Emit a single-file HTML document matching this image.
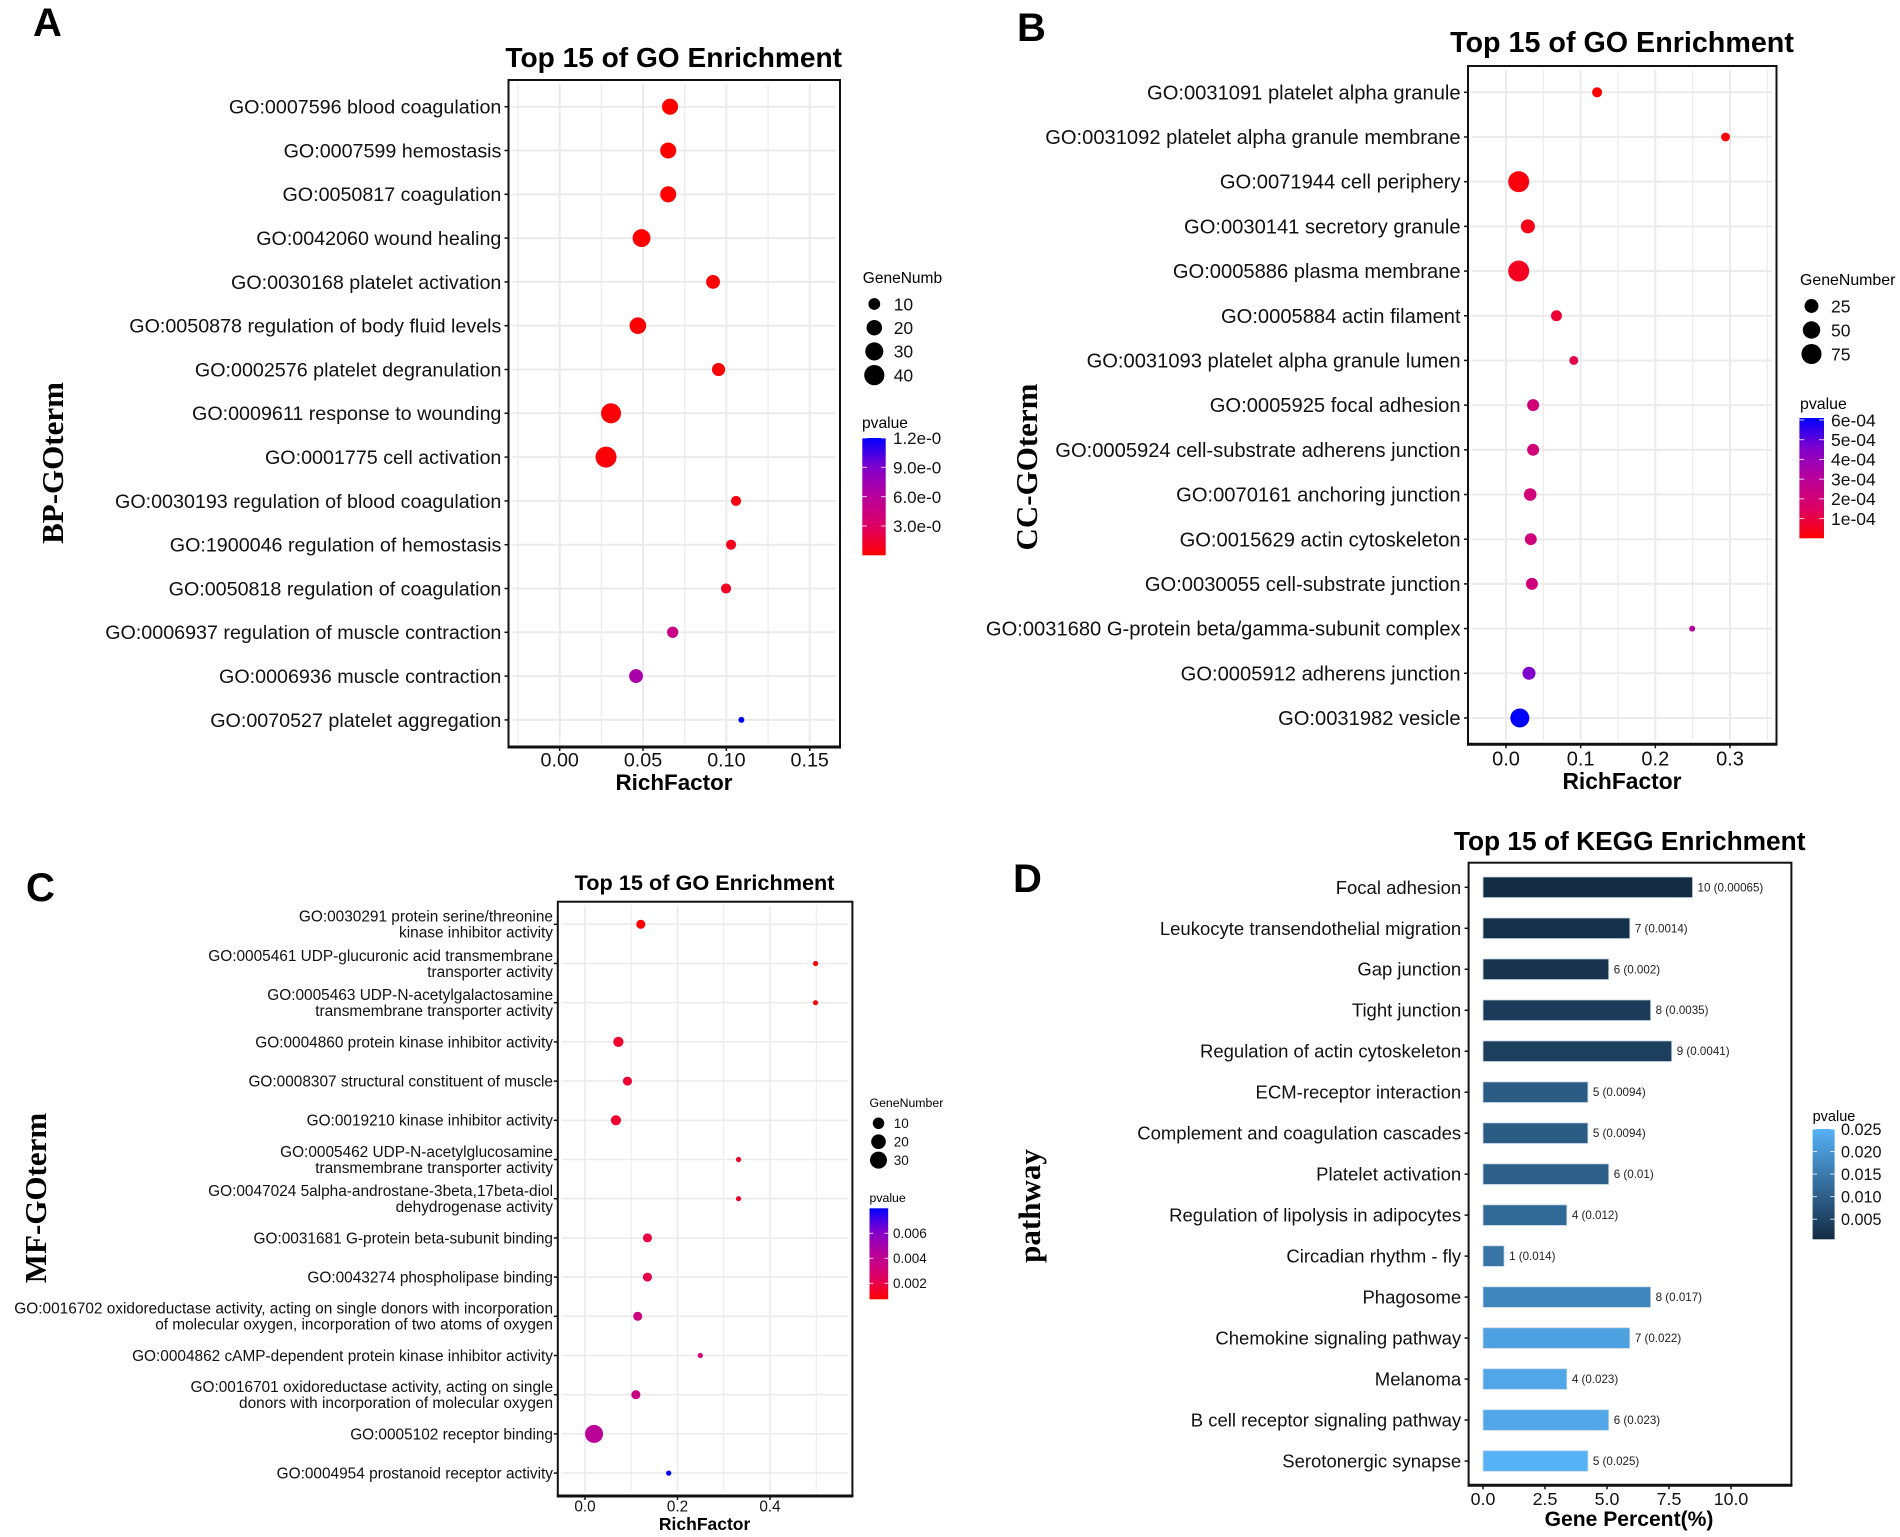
<!DOCTYPE html>
<html lang="en">
<head>
<meta charset="utf-8">
<title>GO and KEGG Enrichment</title>
<style>
html,body{margin:0;padding:0;background:#fff;}
svg{display:block;font-family:"Liberation Sans",sans-serif;}
.letter{font-weight:700;font-size:40px;fill:#000;}
.ytitle{font-family:"Liberation Serif",serif;font-weight:700;font-size:31px;fill:#000;text-anchor:middle;}
.title{font-weight:700;fill:#000;text-anchor:middle;}
.xtitle{font-weight:700;fill:#000;text-anchor:middle;}
</style>
</head>
<body>
<svg id="figure" xmlns="http://www.w3.org/2000/svg" width="1900" height="1537" viewBox="0 0 1900 1537">
<defs>
<linearGradient id="rb" x1="0" y1="1" x2="0" y2="0">
<stop offset="0" stop-color="#ff0000"/><stop offset="0.25" stop-color="#dd0065"/><stop offset="0.5" stop-color="#b8009b"/><stop offset="0.75" stop-color="#8000cc"/><stop offset="1" stop-color="#0000ff"/>
</linearGradient>
<linearGradient id="bb" x1="0" y1="1" x2="0" y2="0">
<stop offset="0" stop-color="#132b43"/><stop offset="1" stop-color="#56b1f7"/>
</linearGradient>
</defs>
<g id="panel-a">
<text class="letter" x="33" y="36">A</text>
<text class="title" x="673.7" y="67" font-size="28.1">Top 15 of GO Enrichment</text>
<text class="xtitle" x="674" y="790" font-size="22.4">RichFactor</text>
<text class="ytitle" transform="translate(63,463) rotate(-90)">BP-GOterm</text>
<text x="862.8" y="283" font-size="15.5">GeneNumb</text>
<text x="862" y="428" font-size="15.6">pvalue</text>
</g>
<g id="panel-b">
<text class="letter" x="1017" y="41">B</text>
<text class="title" x="1622" y="52" font-size="28.7">Top 15 of GO Enrichment</text>
<text class="xtitle" x="1622" y="789" font-size="22.8">RichFactor</text>
<text class="ytitle" transform="translate(1037,467) rotate(-90)">CC-GOterm</text>
<text x="1800" y="285" font-size="15.9">GeneNumber</text>
<text x="1800" y="409" font-size="15.9">pvalue</text>
</g>
<g id="panel-c">
<text class="letter" x="26" y="901">C</text>
<text class="title" x="704.6" y="890" font-size="21.7">Top 15 of GO Enrichment</text>
<text class="xtitle" x="704.6" y="1530" font-size="17.5">RichFactor</text>
<text class="ytitle" transform="translate(46,1198) rotate(-90)">MF-GOterm</text>
<text x="869.5" y="1107" font-size="12.3">GeneNumber</text>
<text x="869.5" y="1202" font-size="12.3">pvalue</text>
</g>
<g id="panel-d">
<text class="letter" x="1013" y="892">D</text>
<text class="title" x="1629.7" y="850" font-size="26.3">Top 15 of KEGG Enrichment</text>
<text class="xtitle" x="1629" y="1526" font-size="21.1">Gene Percent(%)</text>
<text class="ytitle" transform="translate(1040,1206) rotate(-90)">pathway</text>
<text x="1812.6" y="1121" font-size="14.5">pvalue</text>
</g>
</svg>
<script>
// Panel A data
const aTerms = ["GO:0007596 blood coagulation","GO:0007599 hemostasis","GO:0050817 coagulation","GO:0042060 wound healing","GO:0030168 platelet activation","GO:0050878 regulation of body fluid levels","GO:0002576 platelet degranulation","GO:0009611 response to wounding","GO:0001775 cell activation","GO:0030193 regulation of blood coagulation","GO:1900046 regulation of hemostasis","GO:0050818 regulation of coagulation","GO:0006937 regulation of muscle contraction","GO:0006936 muscle contraction","GO:0070527 platelet aggregation"];
const aRichFactor = [0.0662,0.0651,0.0651,0.0491,0.092,0.0469,0.0953,0.0308,0.0278,0.1058,0.1028,0.0998,0.0678,0.0458,0.109];
const aGeneNumber = [22,22,22,29,15,24,13,39,44,7,7,7,9,15,4];
const aPvalue = [1e-8,1e-8,1e-8,1e-8,1e-7,1e-7,1e-7,2e-7,2e-7,5e-7,9e-7,1e-6,4.8e-6,6.8e-6,1.2e-5];
const aXTicks = [0,0.05,0.1,0.15];
const aXTickLabels = ["0.00","0.05","0.10","0.15"];
const aSizeBreaks = [10,20,30,40];
const aColorBreaks = [3e-6,6e-6,9e-6,1.2e-5];
const aColorLabels = ["3.0e-0","6.0e-0","9.0e-0","1.2e-0"];

// Panel B data
const bTerms = ["GO:0031091 platelet alpha granule","GO:0031092 platelet alpha granule membrane","GO:0071944 cell periphery","GO:0030141 secretory granule","GO:0005886 plasma membrane","GO:0005884 actin filament","GO:0031093 platelet alpha granule lumen","GO:0005925 focal adhesion","GO:0005924 cell-substrate adherens junction","GO:0070161 anchoring junction","GO:0015629 actin cytoskeleton","GO:0030055 cell-substrate junction","GO:0031680 G-protein beta/gamma-subunit complex","GO:0005912 adherens junction","GO:0031982 vesicle"];
const bRichFactor = [0.122,0.294,0.017,0.0293,0.017,0.0676,0.0908,0.0363,0.0363,0.0324,0.0332,0.0347,0.2493,0.0308,0.0185];
const bGeneNumber = [8,5,85,26,85,11,5,15,15,18,15,15,2,20,64];
const bPvalue = [5e-6,1e-5,2e-5,4e-5,5e-5,8e-5,1.2e-4,2e-4,2e-4,2e-4,2.1e-4,2.1e-4,3.2e-4,4.6e-4,6.1e-4];
const bXTicks = [0,0.1,0.2,0.3];
const bXTickLabels = ["0.0","0.1","0.2","0.3"];
const bSizeBreaks = [25,50,75];
const bColorBreaks = [1e-4,2e-4,3e-4,4e-4,5e-4,6e-4];
const bColorLabels = ["1e-04","2e-04","3e-04","4e-04","5e-04","6e-04"];

// Panel C data
const cTerms = ["GO:0030291 protein serine/threonine\nkinase inhibitor activity","GO:0005461 UDP-glucuronic acid transmembrane\ntransporter activity","GO:0005463 UDP-N-acetylgalactosamine\ntransmembrane transporter activity","GO:0004860 protein kinase inhibitor activity","GO:0008307 structural constituent of muscle","GO:0019210 kinase inhibitor activity","GO:0005462 UDP-N-acetylglucosamine\ntransmembrane transporter activity","GO:0047024 5alpha-androstane-3beta,17beta-diol\ndehydrogenase activity","GO:0031681 G-protein beta-subunit binding","GO:0043274 phospholipase binding","GO:0016702 oxidoreductase activity, acting on single donors with incorporation\nof molecular oxygen, incorporation of two atoms of oxygen","GO:0004862 cAMP-dependent protein kinase inhibitor activity","GO:0016701 oxidoreductase activity, acting on single\ndonors with incorporation of molecular oxygen","GO:0005102 receptor binding","GO:0004954 prostanoid receptor activity"];
const cRichFactor = [0.1207,0.4985,0.4985,0.0722,0.0918,0.0669,0.332,0.332,0.135,0.135,0.114,0.2493,0.11,0.0196,0.181];
const cGeneNumber = [5,2,2,7,5,7,2,2,5,5,5,2,5,35,2];
const cPvalue = [0.0008,0.0008,0.0009,0.0015,0.0016,0.0016,0.0015,0.0015,0.0019,0.002,0.0034,0.003,0.0036,0.0043,0.008];
const cXTicks = [0,0.2,0.4];
const cXTickLabels = ["0.0","0.2","0.4"];
const cSizeBreaks = [10,20,30];
const cColorBreaks = [0.002,0.004,0.006];
const cColorLabels = ["0.002","0.004","0.006"];

// Panel D data
const dTerms = ["Focal adhesion","Leukocyte transendothelial migration","Gap junction","Tight junction","Regulation of actin cytoskeleton","ECM-receptor interaction","Complement and coagulation cascades","Platelet activation","Regulation of lipolysis in adipocytes","Circadian rhythm - fly","Phagosome","Chemokine signaling pathway","Melanoma","B cell receptor signaling pathway","Serotonergic synapse"];
const dPercent = [8.45,5.92,5.07,6.76,7.61,4.23,4.23,5.07,3.38,0.85,6.76,5.92,3.38,5.07,4.23];
const dCount = [10,7,6,8,9,5,5,6,4,1,8,7,4,6,5];
const dPvalue = [0.00065,0.0014,0.002,0.0035,0.0041,0.0094,0.0094,0.01,0.012,0.014,0.017,0.022,0.023,0.023,0.025];
const dXTicks = [0,2.5,5,7.5,10];
const dXTickLabels = ["0.0","2.5","5.0","7.5","10.0"];
const dColorBreaks = [0.005,0.01,0.015,0.02,0.025];
const dColorLabels = ["0.005","0.010","0.015","0.020","0.025"];

const NS = "http://www.w3.org/2000/svg";
const INK = "#111";
const GRID = "#ebebeb";

function mk(tag, attrs, parent) {
  const el = document.createElementNS(NS, tag);
  for (const k in attrs) el.setAttribute(k, attrs[k]);
  parent.appendChild(el);
  return el;
}
function mix(a, b, t) {
  return a.map((v, i) => Math.round(v + (b[i] - v) * t));
}
const redBlueStops = [[255,0,0],[221,0,101],[184,0,155],[128,0,204],[0,0,255]];
function redBlue(t) {
  t = Math.max(0, Math.min(1, t));
  const p = t * (redBlueStops.length - 1);
  const i = Math.min(redBlueStops.length - 2, Math.floor(p));
  const c = mix(redBlueStops[i], redBlueStops[i + 1], p - i);
  return "rgb(" + c.join(",") + ")";
}
function blues(t) {
  t = Math.max(0, Math.min(1, t));
  const c = mix([19,43,67], [86,177,247], t);
  return "rgb(" + c.join(",") + ")";
}

function drawFrame(g, L, terms, xTicks, xLabels, withGrid) {
  const xScale = v => L.x0 + v * L.k;
  const yScale = i => L.rowFirst + i * L.rowStep;
  if (withGrid) {
    const step = xTicks[1] - xTicks[0];
    const minors = [];
    for (let v = xTicks[0] - step / 2; xScale(v) < L.right; v += step) minors.push(v);
    minors.forEach(v => {
      const px = xScale(v);
      if (px <= L.left) return;
      const line = mk("line", {x1:px, x2:px, y1:L.top + 4, y2:L.bottom - 4, stroke:GRID, "stroke-width":L.minorW}, g);
      
      
    });
    xTicks.forEach(v => {
      const px = xScale(v);
      const line = mk("line", {x1:px, x2:px, y1:L.top + 4, y2:L.bottom - 4, stroke:GRID, "stroke-width":L.majorW}, g);
      
      
    });
    terms.forEach((t, i) => {
      const py = yScale(i);
      const line = mk("line", {x1:L.left + 4, x2:L.right - 4, y1:py, y2:py, stroke:GRID, "stroke-width":L.majorW}, g);
      
      
    });
  }
  terms.forEach((t, i) => {
    const py = yScale(i);
    const tick = mk("line", {x1:L.left - 4, x2:L.left, y1:py, y2:py, stroke:INK, "stroke-width":1.5}, g);
    
    
    const label = mk("text", {x:L.labelX, "text-anchor":"end", "font-size":L.labelSize, fill:"#111"}, g);
    
    
    const lines = t.split("\n");
    lines.forEach((s, j) => {
      const ts = mk("tspan", {x:L.labelX, y:py + (j - (lines.length - 1) / 2) * L.lineGap + L.labelSize * 0.35}, label);
      ts.textContent = s;
    });
  });
  xTicks.forEach((v, i) => {
    const px = xScale(v);
    const tick = mk("line", {x1:px, x2:px, y1:L.bottom, y2:L.bottom + 4, stroke:INK, "stroke-width":1.5}, g);
    
    
    const label = mk("text", {x:px, y:L.tickBase, "text-anchor":"middle", "font-size":L.tickSize, fill:"#111"}, g);
    
    
    label.textContent = xLabels[i];
  });
}
function drawBorder(g, L) {
  const box = mk("rect", {x:L.left, y:L.top, width:L.right - L.left, height:L.bottom - L.top, fill:"none", stroke:INK, "stroke-width":2}, g);
  
  
  const base = mk("line", {x1:L.left - 1, x2:L.right + 1, y1:L.bottom, y2:L.bottom, stroke:INK, "stroke-width":3}, g);
  
  
}
function drawColorLegend(g, C, breaks, labels, gradId) {
  const yScale = v => C.bottom - (v - C.min) / (C.max - C.min) * (C.bottom - C.top);
  const bar = mk("rect", {x:C.x, y:C.top, width:C.w, height:C.bottom - C.top, fill:"url(#" + gradId + ")"}, g);
  
  
  breaks.forEach((v, i) => {
    const py = yScale(v);
    [[C.x, C.x + C.w / 5], [C.x + C.w * 4 / 5, C.x + C.w]].forEach(p => {
      const tick = mk("line", {x1:p[0], x2:p[1], y1:py, y2:py, stroke:"#fff", "stroke-width":1, opacity:0.8}, g);
      
      
    });
    const label = mk("text", {x:C.labelX, y:py + C.size * 0.36, "font-size":C.size, fill:"#111"}, g);
    
    
    label.textContent = labels[i];
  });
}
function drawDotPanel(id, L, S, C, terms, rich, genes, pvals, xTicks, xLabels, sizeBreaks, colorBreaks, colorLabels) {
  const g = document.getElementById(id);
  const radius = n => S.rMin + (S.rMax - S.rMin) * Math.sqrt(Math.max(0, n - S.nMin) / (S.nMax - S.nMin));
  drawFrame(g, L, terms, xTicks, xLabels, true);
  rich.forEach((v, i) => {
    const dot = mk("circle", {cx:L.x0 + v * L.k, cy:L.rowFirst + i * L.rowStep, r:radius(genes[i]), fill:redBlue((pvals[i] - C.min) / (C.max - C.min))}, g);
    
    
  });
  drawBorder(g, L);
  sizeBreaks.forEach((n, i) => {
    const py = S.first + i * S.step;
    const dot = mk("circle", {cx:S.x, cy:py, r:radius(n), fill:"#000"}, g);
    
    
    const label = mk("text", {x:S.labelX, y:py + S.size * 0.36, "font-size":S.size, fill:"#111"}, g);
    
    
    label.textContent = n;
  });
  drawColorLegend(g, C, colorBreaks, colorLabels, "rb");
}

drawDotPanel("panel-a",
  {left:508.5,right:840,top:80,bottom:747,x0:559.7,k:1666.7,rowFirst:106.7,rowStep:43.8,labelX:501.4,labelSize:19.7,lineGap:16,tickBase:766.7,tickSize:19.7,majorW:2,minorW:1.2},
  {nMin:4,nMax:44,rMin:3,rMax:10.5,x:874.3,first:304,step:23.7,labelX:893.7,size:17.5},
  {x:862.3,w:23.4,top:438,bottom:555.3,min:0,max:1.2e-5,labelX:893,size:17},
  aTerms,aRichFactor,aGeneNumber,aPvalue,aXTicks,aXTickLabels,aSizeBreaks,aColorBreaks,aColorLabels);

drawDotPanel("panel-b",
  {left:1468,right:1776.5,top:66,bottom:744.3,x0:1506,k:746.7,rowFirst:92.3,rowStep:44.69,labelX:1460.6,labelSize:20.15,lineGap:16,tickBase:765.5,tickSize:20,majorW:2,minorW:1.2},
  {nMin:2,nMax:85,rMin:3,rMax:10.5,x:1811.5,first:306,step:24,labelX:1831,size:17.5},
  {x:1799.4,w:24.6,top:418,bottom:538.3,min:0,max:6.1e-4,labelX:1831,size:17.5},
  bTerms,bRichFactor,bGeneNumber,bPvalue,bXTicks,bXTickLabels,bSizeBreaks,bColorBreaks,bColorLabels);

drawDotPanel("panel-c",
  {left:557.8,right:852.4,top:901.7,bottom:1496,x0:585,k:462.5,rowFirst:924.3,rowStep:39.2,labelX:553,labelSize:15.4,lineGap:16,tickBase:1511.7,tickSize:15.3,majorW:1.6,minorW:1},
  {nMin:2,nMax:35,rMin:2.6,rMax:9,x:878.5,first:1123.3,step:18.4,labelX:893.7,size:13.5},
  {x:869.5,w:18.7,top:1208.3,bottom:1299.3,min:0.00072,max:0.008,labelX:893,size:13.5},
  cTerms,cRichFactor,cGeneNumber,cPvalue,cXTicks,cXTickLabels,cSizeBreaks,cColorBreaks,cColorLabels);

(function drawBarPanel() {
  const L = {left:1468.6,right:1791.4,top:862.7,bottom:1485.3,x0:1483,k:24.8,rowFirst:887.3,rowStep:40.98,labelX:1461.2,labelSize:18.5,lineGap:16,tickBase:1505,tickSize:17.8};
  const C = {x:1812.6,w:22,top:1129,bottom:1239.3,min:0.00055,max:0.025,labelX:1841,size:16.2};
  const g = document.getElementById("panel-d");
  drawFrame(g, L, dTerms, dXTicks, dXTickLabels, false);
  dPercent.forEach((v, i) => {
    const py = L.rowFirst + i * L.rowStep;
    const fill = blues((dPvalue[i] - C.min) / (C.max - C.min));
    const bar = mk("rect", {x:L.x0, y:py - 10.3, width:v * L.k, height:20.6, fill:fill, stroke:"#c8d8e8", "stroke-width":0.8}, g);
    
    
    const label = mk("text", {x:L.x0 + v * L.k + 5, y:py + 4, "font-size":11.6, fill:"#222"}, g);
    
    
    label.textContent = dCount[i] + " (" + dPvalue[i] + ")";
  });
  drawBorder(g, L);
  drawColorLegend(g, C, dColorBreaks, dColorLabels, "bb");
})();
</script>
</body>
</html>
